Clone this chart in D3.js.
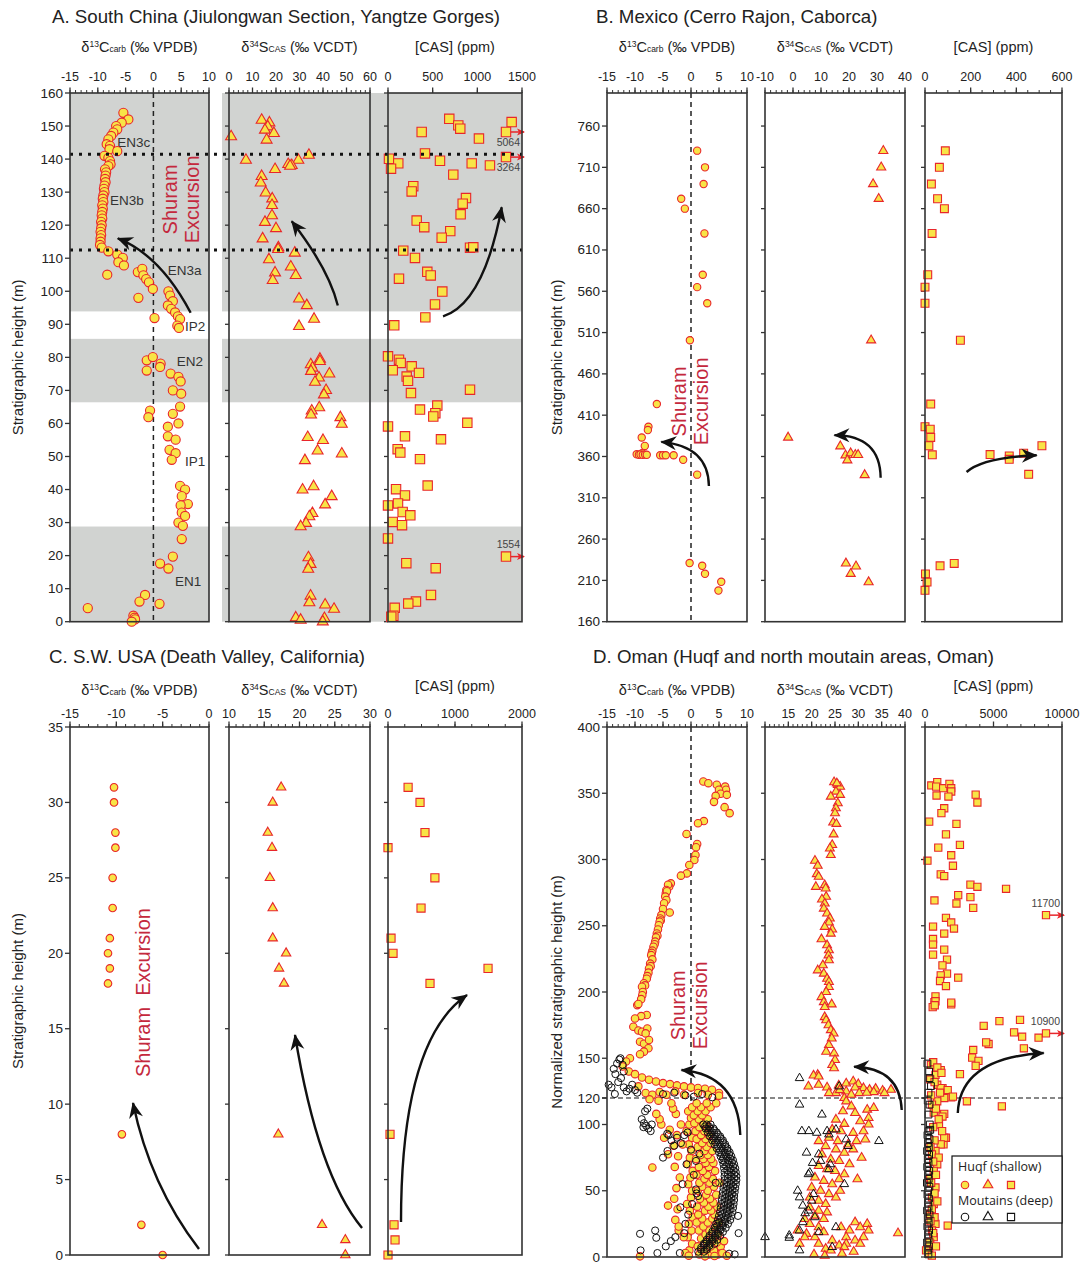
<!DOCTYPE html>
<html>
<head>
<meta charset="utf-8">
<script src="https://cdn.jsdelivr.net/npm/d3@7"></script>
<style>
  body { margin: 0; background: #fff; }
  svg text { font-family: "Liberation Sans", Arial, sans-serif; fill: #222; white-space: pre; }
</style>
</head>
<body>
<svg id="chart" width="1089" height="1269"></svg>
<script>
"use strict";

// ---------- A. South China ----------  [value, height]
var c13A = [[-5.4,154],[-4.5,152],[-5.7,151],[-6.7,150],[-6.5,149],[-7.2,148],[-7.6,147],[-8.1,146],[-8.4,144.5],[-7.8,144],[-7.9,143],[-6.5,142.4],[-8.8,141],[-8.1,140.4],[-7.8,139.4],[-7.7,138.4],[-8.1,137.9],[-8.7,136.9],
  [-8.5,136],[-8.6,135],[-8.7,134],[-8.6,133],[-8.8,132],[-8.9,131],[-8.8,130],[-9.0,129],[-9.1,128],[-9.0,127],[-9.2,126],[-9.1,125],[-9.2,124],[-9.3,123],[-9.2,122],[-9.4,121],[-9.3,120],[-9.4,119],[-9.5,118],[-9.4,117],[-9.5,116],[-9.5,115],[-9.6,114],[-9.3,113.2],
  [-8.1,112.1],[-6.5,111.1],[-5.5,110.1],[-6.3,108.8],[-5.3,107.8],[-8.3,105],[-2.8,105.8],[-2.0,106.8],[-1.8,104.8],[-1.3,103.7],[-0.8,102.7],[-0.1,100.7],[-2.7,98],[2.7,100],[3.0,98.7],[3.5,97],[2.6,95.7],[3.2,94.7],[3.9,93.6],[4.4,92.4],[4.8,91.6],[4.3,89.6],[4.6,88.9],[0.2,91.9],
  [-1.2,79.1],[-0.1,80.1],[-1.2,76],[1.3,78.1],[1.2,77.1],[3.1,75.1],[4.5,74.1],[4.9,72.7],[3.5,70],[5.0,69],[4.8,65.1],[-0.6,63.9],[-0.9,61.9],[3.5,62.9],[4.5,60],[2.6,59],[2.6,56.1],[4.0,55.1],[2.9,52],[4.0,51],[3.3,49],
  [4.8,41.1],[5.7,40],[5.1,38],[6.2,35.6],[4.9,35.2],[5.1,33],[5.7,32],[4.5,30],[5.3,29],[5.1,25],[3.5,19.7],[1.2,17.6],[2.7,16.1],[-1.5,8.1],[-2.5,6.1],[1.1,5.4],[-11.8,4.1],[-3.6,1.8],[-3.4,1.2],[-3.3,0.7],[-3.9,0]];
var s34A = [[0.9,146.8],[13.9,151.8],[17.2,151],[16.5,149.8],[15.3,148.8],[19.1,147.8],[16.0,145.8],[34.0,141.2],[7.2,139.7],[29.5,139.7],[25.2,138.4],[26.7,138.1],[26.0,137.9],[19.6,136.9],[13.9,134.8],[13.5,132.8],[15.6,129.8],[18.4,128],[18.3,126],[18.3,122.9],[15.3,120.9],[20.0,119],[14.3,115.9],[21.0,113.2],[20.9,112.7],[28.0,111.6],[17.0,109.6],[26.3,107.4],[19.6,105.6],[28.4,104.8],[18.6,103.3],[29.8,97.7],[33.1,95.7],[36.2,91.6],[29.8,89.4],[38.7,79.5],
  [38.7,78.8],[34.8,77.8],[35.5,76.8],[34.9,75.8],[42.7,75],[38.3,73.8],[36.6,72.5],[41.3,70],[40.4,68.7],[38.4,64.8],[35.2,63.8],[34.9,62.6],[47.4,61.8],[48.0,59.8],[33.5,55.8],[40.0,54.9],[37.7,51.7],[48.0,50.8],[32.3,48.8],[31.3,39.9],[36.0,40.9],[43.7,37.9],[40.9,35.4],[35.5,32.8],[34.2,31.8],[32.8,29.8],[30.5,28.8],[33.8,19.4],[34.7,17.4],[33.7,15.9],[34.7,7.8],[34.2,5.8],[40.9,5.1],[44.7,3.8],[28.4,1.2],[30.5,0.5],[40.6,1.0],[39.9,0]];
var casA = [[686,152.2],[1384,151.2],[787,150.2],[809,149.2],[377,148.2],[1018,146.2],[414,141.7],[11,140.1],[115,138.7],[582,139.5],[937,138.7],[1141,138.1],[34,137.1],[731,135.3],[283,131.8],[265,130.2],[873,128.2],[836,126.5],[813,123.3],[321,121.4],[406,119.4],[697,118.2],[601,116.2],[171,112.3],[918,113.2],[955,113.3],[302,110.1],[123,103.8],[440,105.9],[478,104.8],[608,99.9],[526,96],[418,92.1],[70,89.7],[0,80.3],
  [123,79.3],[142,78.3],[265,77.3],[53,76.1],[347,75.3],[209,74.2],[224,72.9],[918,70.2],[257,69.2],[358,64.2],[552,65.4],[530,63.1],[507,62.1],[888,60.2],[0,59.1],[190,56.1],[593,55.2],[108,52.2],[138,51.2],[358,49.2],[444,41.2],[90,40.1],[190,38.2],[112,35.8],[0,35.2],[164,33.2],[250,32.2],[53,30.2],[157,29.2],[0,25.2],[205,17.7],[534,16.2],[481,8.1],[313,6.1],[227,5.5],[75,4.2],[60,1.8],[37,1.5]];
var casAOver = [[5064,148.2],[3264,140.6],[1554,19.7]];
var casAOverLabelDy = [14, 14, -9];
var bandsA = [[0,28.8],[66.4,85.6],[93.9,160]];
var dottedA = [141.5, 112.5];
var zonesA = [["EN3c",-6.5,145],["EN3b",-7.8,127.5],["EN3a",2.6,106.3],["IP2",5.7,89.2],["EN2",4.2,78.7],["IP1",5.7,48.6],["EN1",3.9,12.3]];

// ---------- B. Mexico ----------
var c13B = [[1.1,730.2],[2.5,710],[2.25,689.8],[-1.75,672],[-1.1,660],[2.4,630],[2.1,580],[1.1,565],[2.9,545.5],[-0.2,500.7],
  [-6.1,423.5],[-7.6,396],[-7.7,392],[-8.8,383],[-8.25,372.8],[-8.75,364],[-9.7,362.7],[-9.3,362],[-9.0,362.5],[-8.6,362],[-8.2,362.3],[-7.9,362],[-5.5,361.5],[-5.0,361.5],[-4.5,361.5],[-3.1,361.5],[-1.4,356],[1.1,338],
  [-0.25,231],[2.0,227.7],[2.5,218],[5.4,208.3],[4.9,197.7]];
var s34B = [[32.25,730],[31.5,710],[28.6,689.8],[30.6,672],[27.9,500.7],[-1.75,383],[16.9,372.4],[18.75,361.5],[20.6,364],[22.25,362],[23.25,362],[19.4,355.4],[25.6,337.6],[18.9,230.6],[22.5,227],[20.6,218],[27,207.9]];
var casB = [[89,730],[63,710],[28,689.8],[55,672],[85,660],[31,630],[12,580],[0,565],[0,545.5],[155,500.7],
  [25,423.5],[0,396],[23,393],[25,383],[17,373],[32,362],[285,362.3],[369,360.7],[369,356.6],[432,364],[512,373],[454,338.4],[66,227.7],[128,230.5],[2,217.8],[9,208],[0,198]];

// ---------- C. S.W. USA ----------
var c13C = [[-10.25,31],[-10.25,30],[-10.1,28],[-10.1,27],[-10.4,25],[-10.4,23],[-10.7,21],[-10.9,20],[-10.7,19],[-10.9,18],[-9.4,8],[-7.3,2],[-5.0,0]];
var s34C = [[17.4,31],[16.2,30],[15.5,28],[16.1,27],[15.8,25],[16.2,23],[16.2,21],[18.1,20],[17.1,19],[17.8,18],[17.0,8],[23.2,2],[26.5,1],[26.5,0]];
var casC = [[300,31],[478,30],[552,28],[0,27],[700,25],[493,23],[45,21],[75,20],[1493,19],[627,18],[30,8],[90,2],[105,1],[0,0]];

// ---------- D. Oman ----------
var c13DShallow = [[2.2,358.9],[3.1,357.6],[4.6,356.4],[6.1,355],[6.25,352.6],[5.0,352.6],[5.3,349.6],[4.4,348],[6.4,348.8],[4.1,343.5],[6.0,339.5],[6.9,335],[2.3,329],[1.25,327.4],[-0.8,319.3],[1.1,311.7],[0.9,309.2],[0.8,303.4],[0.6,299.6],[-0.3,295.8],[-0.75,289.5],[-1.8,287.8],
  [-3.6,282],[-3.9,279.5],[-4.1,281],[-4.4,277],[-4.5,274.5],[-4.3,276],[-4.6,272],[-4.4,269.4],[-4.8,267],[-5.0,262.6],[-3.8,260],[-5.3,258],[-5.5,255.5],[-5.4,254],[-5.6,253],[-5.75,250.4],[-5.9,247.2],[-6.1,244.2],[-6.0,242.5],[-6.25,241.2],[-6.4,238],[-6.5,236],[-6.7,234.2],[-6.9,231.2],[-7.0,229.5],[-7.1,227.8],[-6.9,224.6],[-7.3,221.4],[-7.2,219.5],[-7.5,217.7],[-7.6,214.6],[-7.8,212],[-7.9,210],[-8.4,206.6],[-8.2,205],[-8.75,204],[-8.6,200],[-8.7,197.5],[-8.9,194.6],[-9.6,190.1],[-7.9,182.6],[-8.9,181.8],
  [-9.4,191],[-10,180],[-10.3,173.75],[-9.4,171],[-8.75,170],[-7.8,172.5],[-8.1,168.75],[-9.1,162.5],[-8.4,161],[-7.5,163.75],[-7.6,157.5],[-8.4,155],[-9.1,153],[-10.9,150],[-11.6,147.5],[-12.2,143.75],
  [-11.1,140],[-10,138],[-8.75,135.5],[-7.5,133.75],[-6.25,132.5],[-5,131.25],[-3.75,130.5],[-2.5,129.5],[-1.25,128.75],[0,128],[1.25,127.5],[2.5,127],[3.75,126.25],[5,123.75],[-9.4,128.75],[-8.1,123.75],[-6.9,122.5],[-5.6,124.5],[-4.4,122.5],[-2.8,125],[-1.25,122.5],[1.25,123.75],[3,122.5],[5,121.75],
  [-0.3,5],[0.2,10],[-0.6,15],[0.1,20],[-0.4,25],[0.3,30],[-0.2,35],[-0.7,40],[0,45],[0.2,50],[-0.5,55],[-0.1,60],[0.3,65],[-0.6,70],[-0.2,75],[0.1,80],[-0.4,85],[0.2,90],[-0.8,95],[-0.3,100],[0,105],[-0.5,110],
  [-2.2,20],[-2.8,28],[-2.4,36],[-3.0,44],[-2.6,52],[-2.0,60],[-2.9,68],[-2.3,76],[-3.1,84],[-2.5,92],[-1.8,100],[-2.7,108],
  [1.5,2],[3.2,2],[4.8,2],[2.4,5],[4.1,5],[1.2,8],[3.5,8],[5.3,8],[2.8,11],[4.6,11],[1.8,14],[3.9,14],[2.6,17],[4.9,17],[1.4,20],[3.3,20],[2.2,23],[4.4,23],[1.0,26],[3.0,26],[5.0,26],[2.0,29],[3.8,29],[1.3,32],[4.2,32],[2.5,35],[3.6,35],[1.1,38],[3.1,38],[4.7,38],[2.3,41],[4.0,41],[1.6,44],[3.4,44],[2.7,47],[4.5,47],[1.2,50],[3.0,50],[2.0,53],[4.1,53],[1.5,56],[3.3,56],[5.1,56],[2.4,59],[3.9,59],[1.0,62],[2.9,62],[2.1,65],[4.3,65],[1.4,68],[3.2,68],[2.6,71],[4.0,71],[0.9,74],[2.2,74],[3.6,74],[1.7,77],[3.0,77],[2.4,80],[3.8,80],[1.2,83],[2.8,83],[2.0,86],[3.5,86],[1.0,89],[2.6,89],[1.8,92],[3.2,92],[0.8,95],[2.4,95],[1.5,98],[2.9,98],[0.6,101],[2.2,101],[1.4,104],[3.0,104],[0.5,107],[2.0,107],[1.2,110],[2.6,110],[0.2,113],[1.8,113],[3.5,113],[1.0,116],[2.8,116],[4.5,116],
  [5.6,3],[6.4,1],[5.9,12],[-6.9,67.5],[-4.1,77.5],[-4.1,38.8],[-5.3,100],[-1.3,15],[-2.2,23],[-5.6,104],[-3.8,96],[-1.5,85],[-4.8,90],[-6.2,108],[-3.2,112],[-9.1,0.5],[-1.0,3],[-0.4,1],[2.5,0.5],[4.2,0.8],[-3.5,116],[-5.8,118],[-7.4,119]];
var c13DDeep = [[-14.7,130],[-14.2,128],[-13.6,123],[-13.0,132],[-12.5,135],[-12.0,128],[-11.5,125],[-11.0,127],[-10.5,130],[-10.0,126],[-9.6,124],[-13.8,142],[-13.2,146],[-12.8,149],[-12.6,150],[-12.2,145],[-13.5,138],[-12.0,140],
  [-8.8,104],[-8.4,101],[-8.0,99],[-7.6,97],[-7.2,95],[-8.2,110],[-7.8,112],[-7.0,100],[-8.5,98],[-4.0,92],[-3.5,88],[-2.5,90],[-1.8,86],[-1.2,92],[-3.0,84],[-3,124],[-1,122],[0.5,121],[2,123],[3.8,120.5],[-5,123],
  [2.2,100],[2.8,100],[3.5,100],[2.6,97],[3.4,97],[4.0,97],[3.0,94],[3.8,94],[4.6,94],[3.4,91],[4.3,91],[5.2,91],[3.8,88],[4.8,88],[5.7,88],[4.2,85],[5.2,85],[6.1,85],[4.6,82],[5.6,82],[6.5,82],[5.0,79],[6.0,79],[6.9,79],[5.3,76],[6.3,76],[7.2,76],[5.6,73],[6.6,73],[7.5,73],[5.8,70],[6.8,70],[7.7,70],[5.9,67],[7.0,67],[7.9,67],[6.0,64],[7.1,64],[8.0,64],[6.0,61],[7.2,61],[8.1,61],[6.0,58],[7.2,58],[8.1,58],[5.9,55],[7.1,55],[8.0,55],[5.8,52],[7.0,52],[7.9,52],[5.7,49],[6.9,49],[7.8,49],[5.6,46],[6.8,46],[7.7,46],[5.5,43],[6.7,43],[7.7,43],[5.4,40],[6.6,40],[7.6,40],[5.3,37],[6.5,37],[7.5,37],[5.2,34],[6.4,34],[7.4,34],[5.0,31],[6.2,31],[7.2,31],[4.8,28],[6.0,28],[7.0,28],[4.5,25],[5.6,25],[6.6,25],[4.2,22],[5.2,22],[6.2,22],[3.8,19],[4.8,19],[5.7,19],[3.3,16],[4.3,16],[5.2,16],[2.8,13],[3.8,13],[4.7,13],[2.3,10],[3.3,10],[4.2,10],[1.8,7],[2.8,7],[1.3,4],[2.3,4],
  [2.5,98.5],[3.2,98.5],[3.2,95.5],[4.2,95.5],[3.6,92.5],[4.8,92.5],[4.0,89.5],[5.3,89.5],[4.4,86.5],[5.7,86.5],[4.8,83.5],[6.1,83.5],[5.2,80.5],[6.5,80.5],[5.5,77.5],[6.8,77.5],[5.8,74.5],[7.0,74.5],[6.1,71.5],[7.3,71.5],[6.3,68.5],[7.5,68.5],[6.5,65.5],[7.6,65.5],[6.6,62.5],[7.7,62.5],[6.6,59.5],[7.7,59.5],[6.5,56.5],[7.6,56.5],[6.4,53.5],[7.5,53.5],[6.3,50.5],[7.4,50.5],[6.2,47.5],[7.3,47.5],[6.1,44.5],[7.2,44.5],[6.0,41.5],[7.1,41.5],[5.9,38.5],[7.0,38.5],[5.8,35.5],[6.9,35.5],[5.6,32.5],[6.7,32.5],[5.4,29.5],[6.5,29.5],[5.1,26.5],[6.1,26.5],[4.7,23.5],[5.7,23.5],[4.3,20.5],[5.3,20.5],[3.8,17.5],[4.8,17.5],[3.3,14.5],[4.3,14.5],[2.8,11.5],[3.8,11.5],[2.3,8.5],[3.3,8.5],[1.8,5.5],[2.8,5.5],
  [-9.1,17.5],[-6.4,20],[-6.2,14.5],[-9.0,5],[-4.5,8],[-3.6,12],[-2.8,15],[-1.0,25],[-0.5,32],[0.2,40],[1.0,48],[-1.5,55],[0.5,62],[-0.8,70],[1.5,78],[-1.2,18],[2.5,10],[7.8,2],[8.5,18],[-4.2,80],[-5.0,75],[-2.0,3],[-6.0,3],[6.8,2.5],[8.4,31],[-1.9,37.5],[1.25,46],[0.9,51],[4.4,56],[-0.6,94],[-4.25,93],[0,81],[0.9,72.5]];
var s34DShallow = [[24.8,358.4],[25.6,356.4],[26.1,355],[25.4,357.5],[25.2,351.3],[24.1,347.5],[26.1,348.8],[25.6,342.5],[25.2,338.7],[25,335],[24.6,328],[25.3,326.9],[24.7,319],[24.4,311],[23.9,308.4],[24.1,303.4],[20.7,299.1],[21.3,295.3],[21.1,289],[21.5,287],[20.9,279.4],[22.8,280.7],[23,278.2],[23.1,271.9],[22.2,269.9],[22.8,266.8],[22.6,263],[23.3,259.3],[23.9,255.5],[23.7,252.5],[22.8,249.2],[24.4,247.2],[24.1,244.1],[22.1,239.8],[23.3,235.3],[23.7,231.5],[23.6,227.7],[23.7,224],[22.4,220.2],[21.3,216.4],[22.6,213.9],[23.3,210],[23.7,207.6],[23.7,203.8],[23.1,200],[22.1,196.2],[22.6,192.4],[24.3,190.7],[22.8,188.7],[22.8,181.1],[23.1,178.75],[23.6,175],[24.1,171.25],[24.7,168.75],[24.3,165],[23.7,160],[23.1,155],[24.8,153.75],[25,148.75],[24.4,145],[21.3,137.5],[24.8,142.5],[20.4,137],[21.5,136.25],
  [19.3,128.75],[21.5,130],[23.3,128],[25.8,129.5],[27.4,131],[28.9,132.5],[30,130.5],[31.1,127.5],[32.4,126.25],[33.7,127],[35.2,125.5],[37,126.25],[27.4,125],[29.3,128],[25.2,123.75],[23.7,123.75],[27,120],[28.5,122.5],[30.2,123.75],[33.3,124.5],[35.6,123.75],[26.0,126],[31.8,124],
  [27.4,117.5],[28.5,113.75],[26.7,110],[29.3,108.75],[31.9,111.25],[33.3,112.5],[25.2,103.75],[27,100.5],[30.4,102.5],[32.2,105],[24.4,96.25],[26.3,95],[28.9,93.75],[31.1,95],[32.2,100],[23.7,90],[25.6,87.5],[27.8,85],[29.6,87.5],[31.5,88.75],[21.5,87.5],[23,83.75],[25.2,81.25],[27,78.75],[28.9,81.25],[30.7,75],[22.2,77.5],[24.1,73.75],[25.9,72.5],[28.1,70],[21.5,68.75],[23.3,66.25],[25,65],[27,62.5],[29.8,58.75],[20.7,60],[22.6,57.5],[24.4,55],[25.9,58.75],[20,52.5],[21.9,50],[23.7,47.5],[19.6,45],[21.5,42.5],[23,40],[19.6,37.5],[21.5,35],[23.3,33.75],[20.7,31.25],[22.6,28.75],[18.5,28.75],[19.6,25],[21.5,22.5],[17,20],[18.9,17.5],[20.7,15],[22.6,18.75],[24.4,12.5],[26.3,22.5],[28.1,20],[29.3,26.25],[30.4,22.5],[31.9,25],[32.2,20],[27.4,15],[29.3,12.5],[31.1,15],[25.9,8.75],[27.4,10],[30.4,10],[21.5,10],[23,6.25],[18.5,15],[17.4,10],[24.1,5],[27,7.5],[38.5,18],[25.2,45],[26.1,50],[20.5,2],[22.8,1],[26.5,2.5],[29.0,4]];
var s34DDeep = [[17.4,135],[25.9,128.75],[17.4,115],[22.2,107.5],[17.9,95],[19.4,95],[21.1,93.75],[23.3,95],[23.7,92.5],[25.2,96.25],[27.4,88.75],[27.8,83.75],[34.4,87.5],[18.9,78.75],[21.5,77.5],[21.9,72.5],[19.6,63.75],[19.3,62.5],[23.7,66.25],[27,55],[17,50],[17.4,45],[18.1,38.75],[19.3,35],[20.7,30],[18.1,26.25],[17.4,20],[15.2,16.25],[15.2,14.5],[10,15],[17.4,5],[24.4,7.5],[25.2,22.5],[21.5,18.75],[20,42.5],[20.4,47.5],[18.6,33],[20.2,71],[24.0,70]];
var casDShallow = [[459,355.9],[893,358.4],[816,355],[1326,353.8],[1785,357.1],[1913,353.8],[1913,351.3],[842,348.3],[1709,347.5],[3698,349],[3825,343],[1403,338.7],[1199,335],[306,328.6],[2295,326.9],[1530,319],[2550,311],[969,309],[1913,303.2],[179,299.1],[2040,295.3],[1148,288.8],[1403,287.5],[3315,281],[3825,279.4],[5916,277.9],[2423,273.1],[3315,271.6],[689,269.1],[2295,266.8],[3519,263.5],[1530,256],[1913,252.5],[587,249.4],[2117,247.9],[1403,244.1],[587,240],[587,235.8],[1403,232],[587,228.2],[1607,224.5],[1275,220.1],[1607,213.9],[1148,212.6],[2423,210.8],[1097,208.3],[1530,204.5],[765,196.7],[689,192.4],[1913,190.7],[561,188.6],
  [765,193],[714,190],[1913,192],[4284,174.5],[5432,178],[6936,179],[6503,169.5],[7089,166.25],[8288,165.5],[3519,156.25],[3443,150.5],[4641,160.75],[4463,162],[7217,157.5],[3902,148],[3698,144.25],[2550,138],[1275,127.5],[1403,125],[1913,120.5],[3060,117.5],[5610,113.75],[1403,108],[1530,90],[1352,85],
  [1148,141],[434,145],[765,137.5],[383,134],[893,130],[1148,127.5],[1658,126],[2040,121],[1403,120],[893,117.5],[510,115],[638,109],[1275,106],[1020,100],[1403,90],[1148,85],[765,80],[510,77.5],[893,70],[638,65],[383,59],[765,52.5],[510,45],[638,40],[383,32.5],[765,25],[1658,23.75],[510,20],[638,15],[383,10],[179,6],[332,11],[76,5],
  [600,147],[900,143],[1200,139],[700,132],[1100,124],[450,122],[800,112],[1000,104],[600,98],[1250,95],[700,88],[400,83],[1000,75],[600,72],[800,62],[450,56],[700,48],[900,42],[500,36],[700,30],[400,27],[600,18],[800,8],[300,3],[500,1]];
var casDDeep = [[179,146],[332,135],[434,129],[255,124],[332,115],[255,107.5],[383,96],[255,95],[180,92],[330,89],[210,86],[280,83],[150,80],[300,77],[200,74],[260,71],[160,68],[310,65],[220,62],[270,59],[140,56],[320,53],[230,50],[180,47],[290,44],[210,41],[260,38],[150,35],[330,32],[200,29],[270,26],[170,23],[300,20],[220,17],[260,14],[150,11],[280,8],[200,5],[250,2],[300,140],[200,118],[350,100]];
var casDOver = [[11700,258],[10900,168.75]];
var casDOverLabelDy = [-8, -8];
var dashedD = [120];

// curved arrows, [tail, control, tip] in data units, one per column
var arrowsA = [[[6.7,93.5],[1.2,111],[-6.4,116]], [[46.3,95.7],[42.4,106.8],[26.7,121.2]], [[616,92.4],[1070,96.3],[1273,125.4]]];
var arrowsB = [[[3.2,324.2],[3.1,372.7],[-5.3,377.7]], [[31.3,334.3],[31.1,385.5],[14.8,385.8]], [[182,341.2],[254,358.8],[489,361.5]]];
var arrowsC = [[[-1.08,0.4],[-6.37,4.64],[-8.2,10.08]], [[28.87,1.79],[22.62,5.3],[19.36,14.58]], [[194,2.19],[194,14.25],[1179,17.23]]];
var arrowsD = [[[8.8,92.1],[8.4,137.4],[-1.7,141.1]], [[39.3,110.9],[38.9,142.6],[29.1,143.6]], [[2394,108.7],[2555,150.2],[8664,154]]];

var YELLOW = "#f8e446", RED = "#e8262b", INK = "#333";

var svg = d3.select("#chart");
var defs = svg.append("defs");
defs.append("marker").attr("id", "head").attr("markerUnits", "userSpaceOnUse")
    .attr("viewBox", "-16 -8 18 16").attr("refX", 0).attr("refY", 0)
    .attr("markerWidth", 18).attr("markerHeight", 16).attr("orient", "auto")
  .append("path").attr("d", "M1,0 L-15,-7 L-10,0 L-15,7 Z").attr("fill", "#111");
defs.append("marker").attr("id", "redhead").attr("markerUnits", "userSpaceOnUse")
    .attr("viewBox", "-8 -4 9 8").attr("refX", 0).attr("refY", 0)
    .attr("markerWidth", 9).attr("markerHeight", 8).attr("orient", "auto")
  .append("path").attr("d", "M1,0 L-7,-3.5 L-5,0 L-7,3.5 Z").attr("fill", RED);

function isoHead(g, cx, y, kind, casDy) {
  var t = g.append("text").attr("x", cx).attr("y", y).attr("text-anchor", "middle").attr("font-size", 14.5);
  if (kind == "cas") { t.attr("y", y + casDy).text("[CAS] (ppm)"); return; }
  t.append("tspan").text("δ");
  t.append("tspan").attr("font-size", 8.5).attr("dy", -5).text(kind == "c13" ? "13" : "34");
  t.append("tspan").attr("dy", 5).text(kind == "c13" ? "C" : "S");
  t.append("tspan").attr("font-size", 8.5).text(kind == "c13" ? "carb" : "CAS");
  t.append("tspan").text(kind == "c13" ? " (‰ VPDB)" : " (‰ VCDT)");
}

function dots(g, data, x, y, shape, size, open) {
  var type = shape == "c" ? d3.symbolCircle : shape == "t" ? d3.symbolTriangle : d3.symbolSquare;
  g.selectAll(null).data(data).enter().append("path")
    .attr("d", d3.symbol().type(type).size(size))
    .attr("transform", function(d) { return "translate(" + x(d[0]) + "," + y(d[1]) + ")"; })
    .attr("fill", open ? "none" : YELLOW)
    .attr("stroke", open ? "#111" : RED)
    .attr("stroke-width", open ? 1 : 1.1);
}

function overScale(g, data, dys, x, y, size) {
  var xr = x.range()[1];
  data.forEach(function(d, i) {
    var yy = y(d[1]);
    g.append("line").attr("x1", xr - 13).attr("x2", xr + 2).attr("y1", yy).attr("y2", yy)
      .attr("stroke", RED).attr("stroke-width", 1.5).attr("marker-end", "url(#redhead)");
    g.append("path").attr("d", d3.symbol().type(d3.symbolSquare).size(size))
      .attr("transform", "translate(" + (xr - 16) + "," + yy + ")")
      .attr("fill", YELLOW).attr("stroke", RED).attr("stroke-width", 1.1);
    g.append("text").attr("x", xr - 2).attr("y", yy + dys[i]).attr("text-anchor", "end")
      .attr("font-size", 10.5).style("fill", "#444").text(d[0]);
  });
}

function curvedArrow(g, pts, x, y) {
  var p = pts.map(function(d) { return [x(d[0]), y(d[1])]; });
  g.append("path").attr("d", "M" + p[0] + "Q" + p[1] + " " + p[2])
    .attr("fill", "none").attr("stroke", "#111").attr("stroke-width", 2.4)
    .attr("marker-end", "url(#head)");
}

function shuram(g, cx, cy, twoLines) {
  if (twoLines) {
    g.append("text").attr("transform", "translate(" + (cx - 11) + "," + cy + ") rotate(-90)")
      .attr("text-anchor", "middle").attr("dominant-baseline", "central").attr("font-size", 20).style("fill", "#c4283d").text("Shuram");
    g.append("text").attr("transform", "translate(" + (cx + 11) + "," + cy + ") rotate(-90)")
      .attr("text-anchor", "middle").attr("dominant-baseline", "central").attr("font-size", 20).style("fill", "#c4283d").text("Excursion");
  } else {
    g.append("text").attr("transform", "translate(" + cx + "," + cy + ") rotate(-90)")
      .attr("text-anchor", "middle").attr("dominant-baseline", "central").attr("font-size", 20).style("fill", "#c4283d").text("Shuram  Excursion");
  }
}

function drawPanel(p) {
  var g = svg.append("g");
  var y = d3.scaleLinear().domain(p.yDomain).range([p.bottom, p.top]);
  var xs = p.cols.map(function(c) { return d3.scaleLinear().domain(c.dom).range([c.x0, c.x1]); });
  var top = y(p.yDomain[1]), bot = y(p.yDomain[0]);

  g.append("text").attr("x", p.tx).attr("y", p.ty).attr("font-size", 18.7).text(p.title);
  g.append("text").attr("transform", "translate(" + p.ylx + "," + ((top + bot) / 2) + ") rotate(-90)")
    .attr("text-anchor", "middle").attr("dominant-baseline", "central").attr("font-size", 15).text(p.yLabel);

  // grey bands (panel A)
  if (p.bands) {
    p.bands.forEach(function(b) {
      [[p.cols[0].x0, p.cols[0].x1], [p.cols[1].x0 - 7, p.cols[2].x1]].forEach(function(r) {
        g.append("rect").attr("x", r[0]).attr("width", r[1] - r[0])
          .attr("y", y(b[1])).attr("height", y(b[0]) - y(b[1])).attr("fill", "#d1d3d1");
      });
    });
  }

  p.cols.forEach(function(c, i) {
    var x = xs[i];
    isoHead(g, (c.x0 + c.x1) / 2, p.subY, c.kind, p.casDy);
    // top axis
    var ax = g.append("g");
    ax.selectAll(null).data(d3.range(c.dom[0], c.dom[1] + c.minor / 2, c.minor)).enter().append("line")
      .attr("x1", x).attr("x2", x).attr("y1", top).attr("y2", top - 3).attr("stroke", INK).attr("stroke-width", 1);
    var majors = d3.range(c.dom[0], c.dom[1] + c.major / 2, c.major);
    ax.selectAll(null).data(majors).enter().append("line")
      .attr("x1", x).attr("x2", x).attr("y1", top).attr("y2", top - 5.5).attr("stroke", INK).attr("stroke-width", 1.3);
    ax.selectAll(null).data(majors.filter(function(v) { return !(c.skip && c.skip.indexOf(v) >= 0); })).enter().append("text")
      .attr("x", x).attr("y", p.tickY).attr("text-anchor", "middle").attr("font-size", 12.5)
      .text(function(v) { return String(v); });
    // y ticks on the left of each frame
    ax.selectAll(null).data(p.yTicks).enter().append("line")
      .attr("x1", c.x0 - (i == 0 ? 5 : 4)).attr("x2", c.x0).attr("y1", y).attr("y2", y)
      .attr("stroke", INK).attr("stroke-width", 1.3);
    if (i == 0) {
      ax.selectAll(null).data(p.yTicks).enter().append("text")
        .attr("x", c.x0 - 7).attr("y", y).attr("text-anchor", "end").attr("dominant-baseline", "central")
        .attr("font-size", 13.5).text(function(v) { return v; });
    }
    if (c.zero) {
      g.append("line").attr("x1", x(0)).attr("x2", x(0)).attr("y1", top).attr("y2", bot)
        .attr("stroke", "#222").attr("stroke-width", 1.5).attr("stroke-dasharray", "5,4");
    }
  });

  if (p.hdash) {
    p.hdash.forEach(function(h) {
      g.append("line").attr("x1", p.cols[0].x0 - 5).attr("x2", p.cols[2].x1 + 3).attr("y1", y(h)).attr("y2", y(h))
        .attr("stroke", "#111").attr("stroke-width", 1.2).attr("stroke-dasharray", "5,3");
    });
  }
  if (p.zones) {
    p.zones.forEach(function(z) {
      g.append("text").attr("x", xs[0](z[1])).attr("y", y(z[2])).attr("dominant-baseline", "central")
        .attr("font-size", 13.5).style("fill", "#333").text(z[0]);
    });
  }

  // data
  p.series.forEach(function(s) {
    dots(g, s.data, xs[s.col], y, s.shape, s.size, s.open);
  });
  if (p.over) overScale(g, p.over, p.overDy, xs[2], y, p.overSize);

  if (p.dotted) {
    p.dotted.forEach(function(h) {
      g.append("line").attr("x1", p.cols[0].x0).attr("x2", p.cols[2].x1).attr("y1", y(h)).attr("y2", y(h))
        .attr("stroke", "#111").attr("stroke-width", 3).attr("stroke-dasharray", "3,6");
    });
  }

  // frames
  p.cols.forEach(function(c) {
    g.append("rect").attr("x", c.x0).attr("y", top).attr("width", c.x1 - c.x0).attr("height", bot - top)
      .attr("fill", "none").attr("stroke", INK).attr("stroke-width", 1.6);
  });

  p.arrows.forEach(function(a, i) { curvedArrow(g, a, xs[i], y); });
  shuram(g, xs[0](p.shuram[0]), y(p.shuram[1]), p.shuram[2]);
  return {g: g, xs: xs, y: y};
}

var L = [[70, 209], [229, 370], [388, 522]];
var R = [[607, 747], [765, 905], [925, 1062]];

drawPanel({
  title: "A. South China (Jiulongwan Section, Yangtze Gorges)", tx: 52, ty: 23, subY: 52, tickY: 80.5, casDy: 0,
  yDomain: [0, 160], top: 93, bottom: 621.7, yTicks: d3.range(0, 161, 10), yLabel: "Stratigraphic height (m)", ylx: 17,
  cols: [{x0: L[0][0], x1: L[0][1], dom: [-15, 10], major: 5, minor: 1, kind: "c13", zero: true},
         {x0: L[1][0], x1: L[1][1], dom: [0, 60], major: 10, minor: 2, kind: "s34"},
         {x0: L[2][0], x1: L[2][1], dom: [0, 1500], major: 500, minor: 500, kind: "cas"}],
  bands: bandsA, dotted: dottedA, zones: zonesA,
  series: [{col: 0, data: c13A, shape: "c", size: 66}, {col: 1, data: s34A, shape: "t", size: 52}, {col: 2, data: casA, shape: "s", size: 88}],
  over: casAOver, overDy: casAOverLabelDy, overSize: 88,
  arrows: arrowsA, shuram: [5.0, 127.8, true]
});

drawPanel({
  title: "B. Mexico (Cerro Rajon, Caborca)", tx: 596, ty: 23, subY: 52, tickY: 80.5, casDy: 0,
  yDomain: [160, 800], top: 93, bottom: 621.7, yTicks: d3.range(160, 761, 50), yLabel: "Stratigraphic height (m)", ylx: 556,
  cols: [{x0: R[0][0], x1: R[0][1], dom: [-15, 10], major: 5, minor: 1, kind: "c13", zero: true},
         {x0: R[1][0], x1: R[1][1], dom: [-10, 40], major: 10, minor: 2, kind: "s34"},
         {x0: R[2][0], x1: R[2][1], dom: [0, 600], major: 200, minor: 50, kind: "cas"}],
  series: [{col: 0, data: c13B, shape: "c", size: 42}, {col: 1, data: s34B, shape: "t", size: 36}, {col: 2, data: casB, shape: "s", size: 62}],
  arrows: arrowsB, shuram: [-0.2, 426.7, true]
});

drawPanel({
  title: "C. S.W. USA (Death Valley, California)", tx: 49, ty: 663, subY: 695, tickY: 717.5, casDy: -4,
  yDomain: [0, 35], top: 727, bottom: 1255, yTicks: d3.range(0, 36, 5), yLabel: "Stratigraphic height (m)", ylx: 17,
  cols: [{x0: L[0][0], x1: L[0][1], dom: [-15, 0], major: 5, minor: 1, kind: "c13"},
         {x0: L[1][0], x1: L[1][1], dom: [10, 30], major: 5, minor: 1, kind: "s34"},
         {x0: L[2][0], x1: L[2][1], dom: [0, 2000], major: 1000, minor: 250, kind: "cas"}],
  series: [{col: 0, data: c13C, shape: "c", size: 45}, {col: 1, data: s34C, shape: "t", size: 38}, {col: 2, data: casC, shape: "s", size: 66}],
  arrows: arrowsC, shuram: [-7.1, 17.4, false]
});

var pd = drawPanel({
  title: "D. Oman (Huqf and north moutain areas, Oman)", tx: 593, ty: 663, subY: 695, tickY: 717.5, casDy: -4,
  yDomain: [0, 400], top: 727, bottom: 1257, yTicks: [0, 50, 100, 120, 150, 200, 250, 300, 350, 400],
  yLabel: "Normalized stratigraphic height (m)", ylx: 556,
  cols: [{x0: R[0][0], x1: R[0][1], dom: [-15, 10], major: 5, minor: 1, kind: "c13", zero: true},
         {x0: R[1][0], x1: R[1][1], dom: [10, 40], major: 5, minor: 1, kind: "s34", skip: [10]},
         {x0: R[2][0], x1: R[2][1], dom: [0, 10000], major: 5000, minor: 1000, kind: "cas"}],
  hdash: dashedD,
  series: [{col: 0, data: c13DShallow, shape: "c", size: 44}, {col: 0, data: c13DDeep, shape: "c", size: 40, open: true},
           {col: 1, data: s34DShallow, shape: "t", size: 34}, {col: 1, data: s34DDeep, shape: "t", size: 32, open: true},
           {col: 2, data: casDShallow, shape: "s", size: 52}, {col: 2, data: casDDeep, shape: "s", size: 46, open: true}],
  over: casDOver, overDy: casDOverLabelDy, overSize: 52,
  arrows: arrowsD, shuram: [-0.35, 190, true]
});

// legend, panel D
var lg = pd.g.append("g").attr("transform", "translate(952,1156)");
lg.append("rect").attr("width", 110).attr("height", 67).attr("fill", "#fff").attr("stroke", "#111").attr("stroke-width", 1.2);
lg.append("text").attr("x", 6).attr("y", 15).attr("font-size", 12.5).style("font-family", "'Open Sans', 'Noto Sans', sans-serif").text("Huqf (shallow)");
lg.append("text").attr("x", 6).attr("y", 49).attr("font-size", 12.5).style("font-family", "'Open Sans', 'Noto Sans', sans-serif").text("Moutains (deep)");
[["c", 44], ["t", 40], ["s", 52]].forEach(function(s, i) {
  var type = s[0] == "c" ? d3.symbolCircle : s[0] == "t" ? d3.symbolTriangle : d3.symbolSquare;
  lg.append("path").attr("d", d3.symbol().type(type).size(s[1])).attr("transform", "translate(" + (13 + i * 23) + ",29)")
    .attr("fill", YELLOW).attr("stroke", RED).attr("stroke-width", 1.1);
  lg.append("path").attr("d", d3.symbol().type(type).size(s[1])).attr("transform", "translate(" + (13 + i * 23) + ",61)")
    .attr("fill", "none").attr("stroke", "#111").attr("stroke-width", 1.1);
});
</script>
</body>
</html>
